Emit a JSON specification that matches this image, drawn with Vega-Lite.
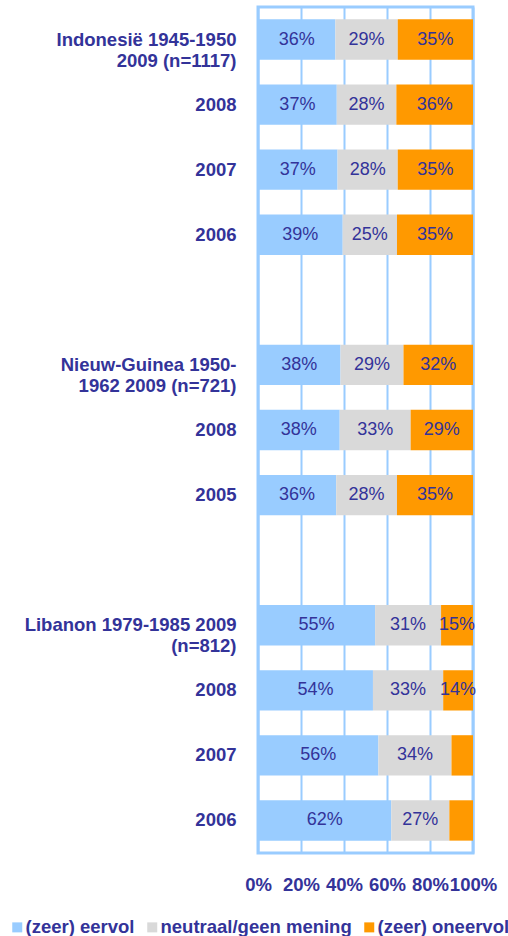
{
  "$schema": "https://vega.github.io/schema/vega-lite/v6.json",
  "autosize": {"type": "none"},
  "padding": {"left": 258, "top": 7, "right": 35, "bottom": 83},
  "width": 215,
  "height": 846,
  "background": "white",
  "config": {
    "font": "Liberation Sans",
    "view": {"stroke": "#99CCFF", "strokeWidth": 3},
    "axis": {"labelColor": "#333399", "labelFont": "Liberation Sans", "labelFontWeight": "bold", "labelFontSize": 18.5}
  },
  "data": {
    "values": [
      {"row": "1|Indonesië 1945-1950|2009 (n=1117)", "cat": "(zeer) eervol", "k": 1, "value": 36, "label": "36%"},
      {"row": "1|Indonesië 1945-1950|2009 (n=1117)", "cat": "neutraal/geen mening", "k": 2, "value": 29, "label": "29%"},
      {"row": "1|Indonesië 1945-1950|2009 (n=1117)", "cat": "(zeer) oneervol", "k": 3, "value": 35, "label": "35%"},
      {"row": "2|2008", "cat": "(zeer) eervol", "k": 1, "value": 37, "label": "37%"},
      {"row": "2|2008", "cat": "neutraal/geen mening", "k": 2, "value": 28, "label": "28%"},
      {"row": "2|2008", "cat": "(zeer) oneervol", "k": 3, "value": 36, "label": "36%"},
      {"row": "3|2007", "cat": "(zeer) eervol", "k": 1, "value": 37, "label": "37%"},
      {"row": "3|2007", "cat": "neutraal/geen mening", "k": 2, "value": 28, "label": "28%"},
      {"row": "3|2007", "cat": "(zeer) oneervol", "k": 3, "value": 35, "label": "35%"},
      {"row": "4|2006", "cat": "(zeer) eervol", "k": 1, "value": 39, "label": "39%"},
      {"row": "4|2006", "cat": "neutraal/geen mening", "k": 2, "value": 25, "label": "25%"},
      {"row": "4|2006", "cat": "(zeer) oneervol", "k": 3, "value": 35, "label": "35%"},
      {"row": "6|Nieuw-Guinea 1950-|1962 2009 (n=721)", "cat": "(zeer) eervol", "k": 1, "value": 38, "label": "38%"},
      {"row": "6|Nieuw-Guinea 1950-|1962 2009 (n=721)", "cat": "neutraal/geen mening", "k": 2, "value": 29, "label": "29%"},
      {"row": "6|Nieuw-Guinea 1950-|1962 2009 (n=721)", "cat": "(zeer) oneervol", "k": 3, "value": 32, "label": "32%"},
      {"row": "7|2008", "cat": "(zeer) eervol", "k": 1, "value": 38, "label": "38%"},
      {"row": "7|2008", "cat": "neutraal/geen mening", "k": 2, "value": 33, "label": "33%"},
      {"row": "7|2008", "cat": "(zeer) oneervol", "k": 3, "value": 29, "label": "29%"},
      {"row": "8|2005", "cat": "(zeer) eervol", "k": 1, "value": 36, "label": "36%"},
      {"row": "8|2005", "cat": "neutraal/geen mening", "k": 2, "value": 28, "label": "28%"},
      {"row": "8|2005", "cat": "(zeer) oneervol", "k": 3, "value": 35, "label": "35%"},
      {"row": "10|Libanon 1979-1985 2009|(n=812)", "cat": "(zeer) eervol", "k": 1, "value": 55, "label": "55%"},
      {"row": "10|Libanon 1979-1985 2009|(n=812)", "cat": "neutraal/geen mening", "k": 2, "value": 31, "label": "31%"},
      {"row": "10|Libanon 1979-1985 2009|(n=812)", "cat": "(zeer) oneervol", "k": 3, "value": 15, "label": "15%"},
      {"row": "11|2008", "cat": "(zeer) eervol", "k": 1, "value": 54, "label": "54%"},
      {"row": "11|2008", "cat": "neutraal/geen mening", "k": 2, "value": 33, "label": "33%"},
      {"row": "11|2008", "cat": "(zeer) oneervol", "k": 3, "value": 14, "label": "14%"},
      {"row": "12|2007", "cat": "(zeer) eervol", "k": 1, "value": 56, "label": "56%"},
      {"row": "12|2007", "cat": "neutraal/geen mening", "k": 2, "value": 34, "label": "34%"},
      {"row": "12|2007", "cat": "(zeer) oneervol", "k": 3, "value": 10, "label": ""},
      {"row": "13|2006", "cat": "(zeer) eervol", "k": 1, "value": 62, "label": "62%"},
      {"row": "13|2006", "cat": "neutraal/geen mening", "k": 2, "value": 27, "label": "27%"},
      {"row": "13|2006", "cat": "(zeer) oneervol", "k": 3, "value": 11, "label": ""}
    ]
  },
  "encoding": {
    "y": {
      "field": "row",
      "type": "nominal",
      "scale": {
        "domain": ["1|Indonesië 1945-1950|2009 (n=1117)", "2|2008", "3|2007", "4|2006", "5|", "6|Nieuw-Guinea 1950-|1962 2009 (n=721)", "7|2008", "8|2005", "9|", "10|Libanon 1979-1985 2009|(n=812)", "11|2008", "12|2007", "13|2006"],
        "paddingInner": 0.38,
        "paddingOuter": 0.19
      },
      "axis": {
        "title": null,
        "domain": false,
        "ticks": false,
        "grid": false,
        "labelPadding": 22,
        "labelLineHeight": 21,
        "labelLimit": 260,
        "labelExpr": "slice(split(datum.label, '|'), 1)"
      }
    },
    "x": {
      "field": "value",
      "type": "quantitative",
      "stack": "normalize",
      "scale": {"domain": [0, 1], "nice": false},
      "axis": {
        "title": null,
        "format": ".0%",
        "values": [0, 0.2, 0.4, 0.6, 0.8, 1],
        "domain": false,
        "ticks": false,
        "grid": true,
        "gridColor": "#99CCFF",
        "gridWidth": 2,
        "gridOpacity": 1,
        "labelPadding": 22,
        "labelFlush": false
      }
    },
    "order": {"field": "k", "type": "quantitative"}
  },
  "layer": [
    {
      "mark": {"type": "bar"},
      "encoding": {
        "color": {
          "field": "cat",
          "type": "nominal",
          "scale": {
            "domain": ["(zeer) eervol", "neutraal/geen mening", "(zeer) oneervol"],
            "range": ["#99CCFF", "#D9D9D9", "#FF9900"]
          },
          "legend": {
            "orient": "none",
            "legendX": -250,
            "legendY": 911,
            "direction": "horizontal",
            "title": null,
            "symbolType": "square",
            "symbolSize": 100,
            "symbolStrokeWidth": 0,
            "symbolOpacity": 1,
            "labelFontSize": 18.5,
            "labelFontWeight": "bold",
            "labelColor": "#333399",
            "labelFont": "Liberation Sans",
            "labelOffset": -1,
            "columnPadding": 8,
            "labelLimit": 300
          }
        }
      }
    },
    {
      "mark": {"type": "text", "fontSize": 18, "color": "#333399", "font": "Liberation Sans", "baseline": "middle"},
      "encoding": {
        "x": {"field": "value", "type": "quantitative", "stack": "normalize", "bandPosition": 0.5},
        "text": {"field": "label"}
      }
    }
  ]
}
